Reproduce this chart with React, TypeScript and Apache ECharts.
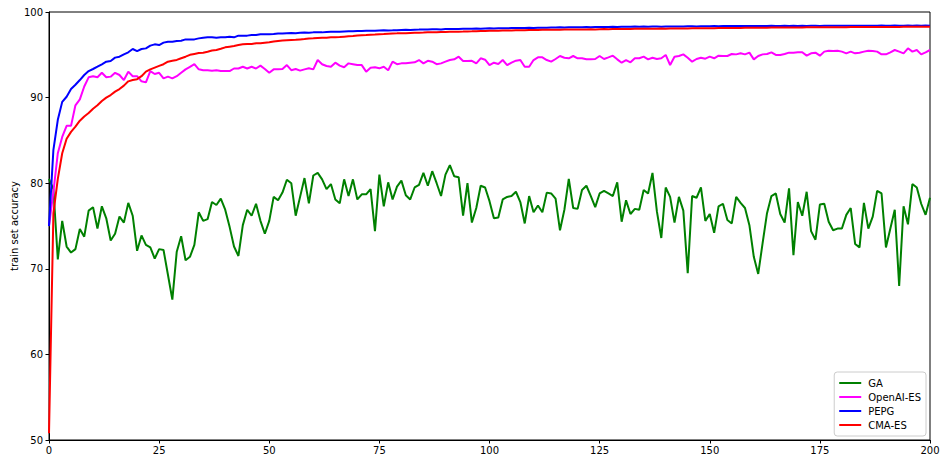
import React, { useEffect, useRef } from "react";
import * as echarts from "echarts";

const seriesNames = ["GA", "OpenAI-ES", "PEPG", "CMA-ES"];
const seriesColors = ["#008000", "#ff00ff", "#0000ff", "#ff0000"];
const xTicks = [0, 25, 50, 75, 100, 125, 150, 175, 200];
const yTicks = [50, 60, 70, 80, 90, 100];

const gaValues = [
  80.5, 79.3, 71.1, 75.6, 72.6, 71.9, 72.3, 74.65, 73.75, 76.8, 77.2, 74.7, 77.3, 75.9, 73.3, 74.1, 76.1, 75.4, 77.7, 76.2,
  72.1, 73.9, 72.8, 72.5, 71.2, 72.3, 72.2, 69.3, 66.4, 72.0, 73.8, 71.0, 71.4, 72.8, 76.6, 75.6, 75.8, 77.8, 77.45, 78.2,
  76.9, 74.9, 72.6, 71.5, 75.1, 76.9, 76.2, 77.6, 75.6, 74.1, 75.6,
  78.4, 78.0, 78.9, 80.4, 80.0, 76.2, 78.4, 80.6, 77.65, 80.9, 81.2, 80.45, 79.3, 79.9, 78.1, 77.65, 80.45, 78.5, 80.45, 78.1,
  78.7, 78.7, 79.3, 74.4, 81.0, 77.3, 80.1, 78.1, 79.6, 80.3, 78.6, 78.1, 79.5, 79.8, 81.2, 79.7, 81.4, 80.0, 78.5, 81.0,
  82.1, 80.8, 80.7, 76.2, 80.0, 75.4, 77.1, 79.7, 79.5, 77.9,
  75.9, 76.0, 78.1, 78.4, 78.5, 79.0, 77.8, 75.3, 78.5, 76.6, 77.4, 76.6, 78.9, 78.8, 78.2, 74.5, 76.9, 80.5, 77.1, 77.0,
  79.2, 79.7, 78.5, 77.2, 78.8, 79.1, 78.8, 78.5, 80.1, 75.5, 78.0, 76.4, 77.0, 76.9, 79.2, 78.8, 81.2, 76.7, 73.6, 79.5,
  78.4, 75.4, 78.4, 76.8, 69.5, 78.5, 78.3, 79.5, 75.6, 76.4,
  74.2, 77.3, 77.6, 75.7, 75.3, 78.4, 77.7, 77.1, 75.1, 71.4, 69.4, 73.0, 76.5, 78.5, 78.8, 76.4, 75.4, 79.4, 71.6, 77.8,
  76.2, 79.0, 74.4, 73.4, 77.5, 77.6, 75.5, 74.5, 74.7, 74.7, 76.3, 77.1, 72.9, 72.5, 77.7, 74.7, 76.1, 79.1, 78.8, 72.5,
  74.7, 76.9, 68.0, 77.3, 75.2, 79.9, 79.5, 77.6, 76.3, 78.3,
];

const openaiValues = [
  75.0, 79.0, 83.5, 85.4, 86.7, 86.7, 89.1, 89.8, 91.3, 92.37, 92.5, 92.37, 92.9, 92.37, 92.45, 92.9, 92.64, 92.05, 93.03, 92.5,
  92.5, 91.9, 91.78, 93.1, 92.76, 92.9, 92.25, 92.45, 92.25, 92.5, 92.9, 93.3, 93.6, 93.9, 93.3, 93.2, 93.2, 93.15, 93.2, 93.1,
  93.1, 93.1, 93.4, 93.4, 93.6, 93.4, 93.6, 93.4, 93.73, 93.34, 92.9,
  93.3, 93.3, 93.34, 93.8, 93.2, 93.34, 93.15, 93.3, 93.42, 93.3, 94.39, 93.9, 93.69, 93.6, 94.08, 93.73, 93.54, 94.0, 93.9, 93.8,
  93.8, 93.03, 93.5, 93.54, 93.42, 93.6, 93.2, 94.2, 93.9, 94.0, 94.0, 94.08, 94.12, 94.39, 94.0, 94.3, 94.2, 93.9, 94.0, 94.2,
  94.39, 94.47, 94.78, 94.27, 94.27, 94.3, 94.0, 94.59, 94.43, 93.8,
  94.08, 93.93, 94.39, 93.8, 94.08, 94.31, 94.39, 93.6, 93.6, 94.39, 94.7, 94.7, 94.39, 94.2, 94.51, 94.86, 94.66, 94.59, 94.86, 94.59,
  94.59, 94.47, 94.47, 94.51, 94.86, 94.51, 94.7, 94.9, 94.47, 94.08, 94.39, 94.12, 94.59, 94.59, 94.78, 94.47, 94.66, 94.51, 94.59, 94.98,
  93.81, 94.78, 94.86, 95.05, 94.66, 94.2, 94.51, 94.66, 94.55, 94.78,
  94.59, 94.9, 94.86, 94.86, 95.09, 95.05, 95.17, 95.05, 95.25, 94.47, 94.86, 95.05, 95.09, 95.29, 94.98, 94.98, 95.09, 95.25, 95.25, 95.29,
  95.29, 94.9, 95.17, 95.25, 94.9, 95.37, 95.48, 95.44, 95.48, 95.37, 95.17, 95.37, 95.17, 95.25, 95.37, 95.48, 95.44, 95.37, 95.05, 95.05,
  95.29, 95.56, 95.37, 95.17, 95.76, 95.37, 95.56, 95.05, 95.29, 95.56,
];

const pepgValues = [
  75.0, 83.9, 87.4, 89.5, 90.1, 91.0, 91.5, 92.05, 92.64, 93.1, 93.34, 93.61, 93.89, 94.2, 94.28, 94.67, 94.78, 95.05, 95.29, 95.68,
  95.44, 95.68, 95.75, 96.07, 96.22, 96.14, 96.42, 96.53, 96.53, 96.61, 96.65, 96.8, 96.8, 96.8, 96.92, 97.0, 97.04, 97.04, 97.0, 97.04,
  97.04, 97.12, 97.04, 97.24, 97.24, 97.24, 97.31, 97.31, 97.39, 97.39, 97.39,
  97.43, 97.5, 97.48, 97.52, 97.55, 97.53, 97.57, 97.6, 97.58, 97.62,
  97.63, 97.62, 97.66, 97.68, 97.7, 97.69, 97.72, 97.74, 97.75, 97.78,
  97.77, 97.8, 97.82, 97.81, 97.84, 97.86, 97.85, 97.86, 97.88, 97.9,
  97.92, 97.91, 97.94, 97.95, 97.97, 97.96, 97.98, 97.99, 97.97, 98.0,
  98.01, 98.0, 98.02, 98.04, 98.03, 98.05, 98.06, 98.05, 98.08, 98.09,
  98.08, 98.1, 98.11, 98.1, 98.12, 98.13, 98.12, 98.13, 98.15, 98.14,
  98.16, 98.17, 98.16, 98.19, 98.2, 98.21, 98.2, 98.22, 98.21, 98.23,
  98.22, 98.24, 98.23, 98.25, 98.25, 98.24, 98.26, 98.27, 98.26, 98.29,
  98.28, 98.29, 98.3, 98.28, 98.3, 98.29, 98.31, 98.3, 98.29, 98.3,
  98.31, 98.32, 98.3, 98.32, 98.33, 98.33, 98.32, 98.34, 98.33, 98.34,
  98.35, 98.34, 98.35, 98.36, 98.35, 98.36, 98.35, 98.37, 98.36, 98.37,
  98.36, 98.37, 98.36, 98.38, 98.37, 98.36, 98.38, 98.37, 98.38, 98.37,
  98.38, 98.37, 98.39, 98.38, 98.37, 98.39, 98.38, 98.39, 98.38, 98.39,
  98.38, 98.4, 98.39, 98.38, 98.4, 98.39, 98.4, 98.39, 98.41, 98.4,
  98.39, 98.41, 98.4, 98.39, 98.41, 98.4, 98.41, 98.4, 98.41, 98.4,
];

const cmaValues = [
  50.8, 76.5, 80.5, 83.5, 85.2, 86.0, 86.6, 87.3, 87.8, 88.2, 88.7, 89.1, 89.6, 90.0, 90.3, 90.7, 91.0, 91.4, 91.9, 92.05,
  92.15, 92.5, 93.03, 93.3, 93.5, 93.7, 93.9, 94.2, 94.3, 94.4, 94.6, 94.78, 95.0, 95.1, 95.2, 95.25, 95.36, 95.5, 95.56, 95.7,
  95.87, 95.95, 96.03, 96.14, 96.22, 96.26, 96.26, 96.34, 96.34, 96.42, 96.46,
  96.55, 96.62, 96.66, 96.7, 96.74, 96.76, 96.8, 96.84, 96.9, 96.92,
  96.95, 96.98, 97.0, 97.04, 97.06, 97.08, 97.12, 97.16, 97.2, 97.25,
  97.28, 97.3, 97.33, 97.36, 97.4, 97.42, 97.46, 97.5, 97.51, 97.53,
  97.52, 97.55, 97.57, 97.59, 97.6, 97.62, 97.63, 97.64, 97.66, 97.67,
  97.68, 97.69, 97.7, 97.71, 97.73, 97.74, 97.76, 97.78, 97.79, 97.8,
  97.81, 97.82, 97.83, 97.84, 97.85, 97.86, 97.87, 97.88, 97.9, 97.9,
  97.91, 97.92, 97.92, 97.93, 97.94, 97.94, 97.95, 97.95, 97.96, 97.96,
  97.97, 97.97, 97.98, 97.97, 97.99, 98.0, 97.99, 98.0, 98.01, 98.01,
  98.02, 98.02, 98.03, 98.03, 98.04, 98.04, 98.05, 98.05, 98.06, 98.05,
  98.06, 98.07, 98.07, 98.08, 98.08, 98.09, 98.09, 98.1, 98.1, 98.11,
  98.11, 98.12, 98.12, 98.13, 98.13, 98.14, 98.14, 98.15, 98.15, 98.16,
  98.16, 98.17, 98.17, 98.18, 98.18, 98.18, 98.19, 98.19, 98.2, 98.2,
  98.2, 98.21, 98.21, 98.21, 98.22, 98.22, 98.22, 98.23, 98.23, 98.23,
  98.23, 98.24, 98.24, 98.24, 98.24, 98.25, 98.25, 98.25, 98.25, 98.26,
  98.26, 98.26, 98.26, 98.27, 98.27, 98.27, 98.27, 98.28, 98.28, 98.28,
];

const allValues = [gaValues, openaiValues, pepgValues, cmaValues];

const FONT = "DejaVu Sans";

export default function App() {
  const ref = useRef<HTMLDivElement>(null);
  useEffect(() => {
    if (!ref.current) return;
    const chart = echarts.init(ref.current, undefined, { renderer: "svg" });
    chart.setOption({
      animation: false,
      backgroundColor: "#ffffff",
      textStyle: { fontFamily: FONT },
      grid: {
        left: 49,
        right: 14,
        top: 12,
        bottom: 21,
        containLabel: false,
        outerBoundsMode: "none",
        show: true,
        borderColor: "#000000",
        borderWidth: 1,
        backgroundColor: "transparent",
      },
      legend: {
        data: seriesNames,
        orient: "vertical",
        right: 18,
        bottom: 25,
        icon: "rect",
        itemWidth: 22,
        itemHeight: 2,
        itemGap: 2,
        padding: [5, 5, 5, 5],
        borderColor: "#cccccc",
        borderWidth: 1,
        borderRadius: 3,
        backgroundColor: "rgba(255,255,255,0.8)",
        textStyle: { fontFamily: FONT, fontSize: 10, color: "#000", lineHeight: 12, padding: [0, 0, 0, 2] },
      },
      xAxis: {
        type: "value",
        min: xTicks[0],
        max: xTicks[xTicks.length - 1],
        interval: 25,
        splitLine: { show: false },
        axisLine: { show: true, lineStyle: { color: "#000", width: 1 } },
        axisTick: { show: true, length: 3.5, lineStyle: { color: "#000" } },
        axisLabel: { fontFamily: FONT, fontSize: 10, color: "#000", margin: 5 },
      },
      yAxis: {
        type: "value",
        min: yTicks[0],
        max: yTicks[yTicks.length - 1],
        interval: 10,
        name: "train set accuracy",
        nameLocation: "middle",
        nameGap: 30,
        nameMoveOverlap: false,
        nameTextStyle: { fontFamily: FONT, fontSize: 10, color: "#000" },
        splitLine: { show: false },
        axisLine: { show: true, lineStyle: { color: "#000", width: 1 } },
        axisTick: { show: true, length: 3.5, lineStyle: { color: "#000" } },
        axisLabel: { fontFamily: FONT, fontSize: 10, color: "#000", margin: 6 },
      },
      series: seriesNames.map((name, k) => ({
        name,
        type: "line",
        data: allValues[k].map((v, i) => [i, v]),
        showSymbol: false,
        symbol: "none",
        color: seriesColors[k],
        lineStyle: { color: seriesColors[k], width: 2 },
        z: 2 + k,
      })),
    });
    return () => chart.dispose();
  }, []);
  return <div ref={ref} style={{ width: 944, height: 461, position: "fixed", left: 0, top: 0 }} />;
}
